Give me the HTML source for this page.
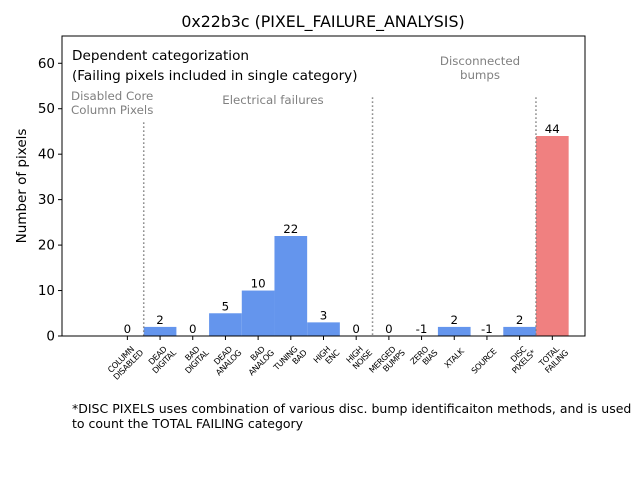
<!DOCTYPE html>
<html><head><meta charset="utf-8"><style>body{margin:0;background:#fff}svg{display:block;font-family:"DejaVu Sans","Liberation Sans",sans-serif}</style></head>
<body>
<svg id="chart" width="640" height="480">
<text x="323" y="27" font-size="15.8" text-anchor="middle">0x22b3c (PIXEL_FAILURE_ANALYSIS)</text>
<g id="plot"></g>
<rect x="62" y="36" width="523" height="300" fill="none" stroke="#000" stroke-width="1"/>
<text x="72" y="60" font-size="13.6">Dependent categorization</text>
<text x="72" y="80" font-size="13.6">(Failing pixels included in single category)</text>
<text x="71" y="100" font-size="11.8" fill="#808080"><tspan x="71">Disabled Core</tspan><tspan x="71" dy="14">Column Pixels</tspan></text>
<text x="273" y="104" font-size="11.8" fill="#808080" text-anchor="middle">Electrical failures</text>
<text x="480" y="65" font-size="11.8" fill="#808080" text-anchor="middle"><tspan x="480">Disconnected</tspan><tspan x="480" dy="14">bumps</tspan></text>
<text transform="translate(26,186) rotate(-90)" font-size="13.5" text-anchor="middle">Number of pixels</text>
<text x="72" y="413" font-size="12.5"><tspan x="72">*DISC PIXELS uses combination of various disc. bump identificaiton methods, and is used</tspan><tspan x="72" dy="15">to count the TOTAL FAILING category</tspan></text>
</svg>
<script>
const categories=[["COLUMN","DISABLED"],["DEAD","DIGITAL"],["BAD","DIGITAL"],["DEAD","ANALOG"],["BAD","ANALOG"],["TUNING","BAD"],["HIGH","ENC"],["HIGH","NOISE"],["MERGED","BUMPS"],["ZERO","BIAS"],["XTALK"],["SOURCE"],["DISC","PIXELS*"],["TOTAL","FAILING"]];
const values=[0,2,0,5,10,22,3,0,0,-1,2,-1,2,44];
const yTicks=[0,10,20,30,40,50,60];
const separators=[[0.5,47],[7.5,52.5],[12.5,52.5]];
const NS="http://www.w3.org/2000/svg";
const L=62,R=585,T=36,B=336,xmin=-2,xmax=14,ymin=0,ymax=66;
const xs=v=>L+(v-xmin)/(xmax-xmin)*(R-L);
const ys=v=>B-(v-ymin)/(ymax-ymin)*(B-T);
const g=document.getElementById('plot');
function mk(t,a){const e=document.createElementNS(NS,t);for(const k in a)e.setAttribute(k,a[k]);g.appendChild(e);return e;}
const bw=xs(1)-xs(0);
values.forEach((v,i)=>{
 const top=Math.max(v,0);
 const r=mk('rect',{x:xs(i-0.5),y:ys(top),width:bw,height:Math.max(0,ys(0)-ys(top)),fill:i===13?'#F08080':'#6495ED'});
 
 
 const t=mk('text',{x:xs(i),y:ys(top)-3,'font-size':11.8,'text-anchor':'middle'});
 t.textContent=v;
 
 
 const tk=mk('line',{x1:xs(i),x2:xs(i),y1:B,y2:B+4,stroke:'#000'});
 
 
 const lab=categories[i];
 const tx=mk('text',{transform:`translate(${xs(i)+10},${B+(lab.length>1?11:16)}) rotate(-45)`,'font-size':8.2,'letter-spacing':'-0.4','text-anchor':'end'});
 
 
 lab.forEach((s,j)=>{const sp=document.createElementNS(NS,'tspan');sp.setAttribute('x',lab.length>1&&j===0?-4:0);sp.setAttribute('dy',j?9:0);sp.textContent=s;tx.appendChild(sp);});
});
separators.forEach((s,i)=>{
 const l=mk('line',{x1:xs(s[0]),x2:xs(s[0]),y1:ys(s[1]),y2:B,stroke:'#808080','stroke-width':1.5,'stroke-dasharray':'1.5,2.5'});
 
 
});
yTicks.forEach(v=>{
 const l=mk('line',{x1:L-4,x2:L,y1:ys(v),y2:ys(v),stroke:'#000'});
 
 
 const t=mk('text',{x:L-7,y:ys(v)+4.5,'font-size':13.5,'text-anchor':'end'});
 t.textContent=v;
 
 
});
</script>
</body></html>
